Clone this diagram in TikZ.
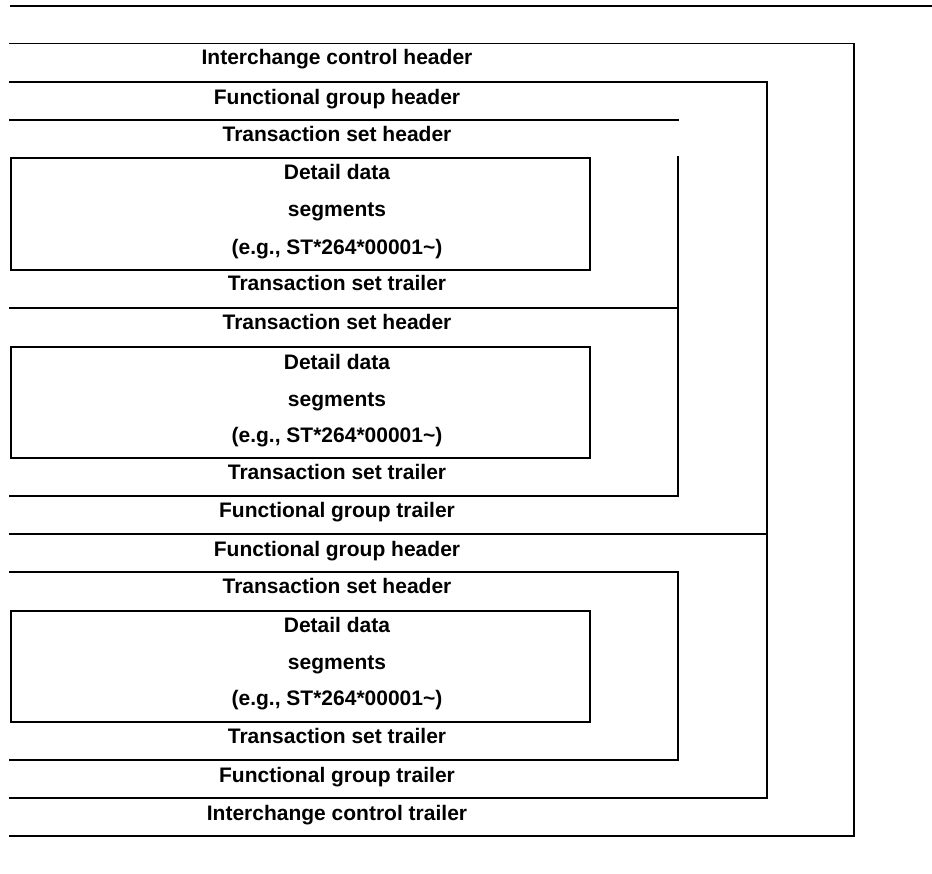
\documentclass[tikz,border=0pt]{standalone}
\usepackage{fontspec}
\setmainfont{Liberation Sans}
\begin{document}
\begin{tikzpicture}[x=1pt,y=-1pt,
  lbl/.style={anchor=base,inner sep=0pt,font=\fontsize{21}{25}\selectfont\bfseries},
  ln/.style={line width=1.3pt,line cap=rect,draw=black}]
\useasboundingbox (0,0) rectangle (932,874);
% top rule
\coordinate (r1) at (10,6); \coordinate (r2) at (932,6);
\draw[line width=1.6pt] (r1) -- (r2);
% interchange envelope
\coordinate (ic1) at (10,43.5); \coordinate (ic2) at (854,43.5);
\coordinate (ic3) at (854,836); \coordinate (ic4) at (10,836);
\draw[ln] (ic1) -- (ic2) -- (ic3) -- (ic4);
% functional groups
\coordinate (fa1) at (10,82); \coordinate (fa2) at (767,82);
\coordinate (fb1) at (10,534); \coordinate (fb2) at (767,534);
\coordinate (fc1) at (10,798); \coordinate (fc2) at (767,798);
\draw[ln] (fa1) -- (fa2) -- (fc2) -- (fc1);
\draw[ln] (fb1) -- (fb2);
% transaction sets
\coordinate (ta1) at (10,120); \coordinate (ta2) at (678,120);
\coordinate (tv1) at (678,157);
\coordinate (tb1) at (10,308); \coordinate (tb2) at (678,308);
\coordinate (tc1) at (10,496); \coordinate (tc2) at (678,496);
\draw[ln] (ta1) -- (ta2);
\draw[ln] (tv1) -- (tc2) -- (tc1);
\draw[ln] (tb1) -- (tb2);
\coordinate (td1) at (10,572); \coordinate (td2) at (678,572);
\coordinate (te1) at (10,760); \coordinate (te2) at (678,760);
\draw[ln] (td1) -- (td2) -- (te2) -- (te1);
% detail boxes
\coordinate (d1a) at (11,158); \coordinate (d1b) at (590,270);
\coordinate (d2a) at (11,347); \coordinate (d2b) at (590,458);
\coordinate (d3a) at (11,611); \coordinate (d3b) at (590,722);
\draw[ln] (d1a) rectangle (d1b);
\draw[ln] (d2a) rectangle (d2b);
\draw[ln] (d3a) rectangle (d3b);
% labels (baseline = cap centre + 7.5)
\node[lbl] (ich) at (337,64.5) {Interchange control header};
\node[lbl] (fgh1) at (337,104.5) {Functional group header};
\node[lbl] (tsh1) at (337,141.5) {Transaction set header};
\node[lbl] (dd1a) at (337,179.5) {Detail data};
\node[lbl] (dd1b) at (337,216.5) {segments};
\node[lbl] (dd1c) at (337,254.5) {(e.g., ST*264*00001\char`~)};
\node[lbl] (tst1) at (337,290.5) {Transaction set trailer};
\node[lbl] (tsh2) at (337,329.5) {Transaction set header};
\node[lbl] (dd2a) at (337,369.5) {Detail data};
\node[lbl] (dd2b) at (337,406.5) {segments};
\node[lbl] (dd2c) at (337,442.5) {(e.g., ST*264*00001\char`~)};
\node[lbl] (tst2) at (337,479.5) {Transaction set trailer};
\node[lbl] (fgt1) at (337,517.5) {Functional group trailer};
\node[lbl] (fgh2) at (337,556) {Functional group header};
\node[lbl] (tsh3) at (337,593.5) {Transaction set header};
\node[lbl] (dd3a) at (337,632.5) {Detail data};
\node[lbl] (dd3b) at (337,669.5) {segments};
\node[lbl] (dd3c) at (337,705.5) {(e.g., ST*264*00001\char`~)};
\node[lbl] (tst3) at (337,743.5) {Transaction set trailer};
\node[lbl] (fgt2) at (337,782.5) {Functional group trailer};
\node[lbl] (ict) at (337,820.5) {Interchange control trailer};
\end{tikzpicture}
\end{document}
